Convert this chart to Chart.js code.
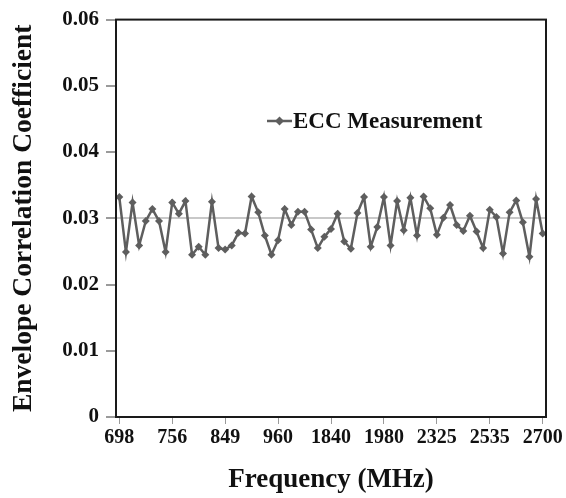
<!DOCTYPE html>
<html>
<head>
<meta charset="utf-8">
<script src="https://cdn.jsdelivr.net/npm/chart.js@4.4.0/dist/chart.umd.min.js"></script>
<style>
    body { margin: 0; background: #fff; }
</style>
</head>
<body>
<canvas id="ecc_chart" width="566" height="498"></canvas>
<script>
// tick labels shown on the frequency axis (one every 8 measurement points)
let freqLabels = ['698', '756', '849', '960', '1840', '1980', '2325', '2535', '2700']
let freqTickIndex = [0, 8, 16, 24, 32, 40, 48, 56, 64]

let eccValues = [
    0.0332, 0.0249, 0.0324, 0.0259, 0.0296, 0.0314, 0.0296, 0.0249, 0.0324, 0.0307,
    0.0326, 0.0245, 0.0257, 0.0245, 0.0325, 0.0255, 0.0253, 0.0259, 0.0278, 0.0277,
    0.0333, 0.0309, 0.0274, 0.0245, 0.0267, 0.0314, 0.0290, 0.0310, 0.0310, 0.0283,
    0.0255, 0.0272, 0.0284, 0.0307, 0.0265, 0.0254, 0.0308, 0.0332, 0.0257, 0.0287,
    0.0332, 0.0259, 0.0326, 0.0282, 0.0331, 0.0274, 0.0333, 0.0315, 0.0275, 0.0301,
    0.0320, 0.0290, 0.0281, 0.0304, 0.0280, 0.0255, 0.0313, 0.0302, 0.0247, 0.0309,
    0.0327, 0.0294, 0.0242, 0.0329, 0.0277
]

let yTicks = [0, 0.01, 0.02, 0.03, 0.04, 0.05, 0.06]

let serif = '"Liberation Serif", "Times New Roman", serif'
let lineColor = '#5e5e5e'

let points = eccValues.map((v, i) => ({x: i, y: v}))

// black frame round the plot + legend inside the plot area
const framePlugin = {
    id: 'frame',
    afterDraw(chart) {
        let ctx = chart.ctx
        let a = chart.chartArea
        ctx.save()
        ctx.strokeStyle = '#1a1a1a'
        ctx.lineWidth = 2
        ctx.strokeRect(a.left, a.top, a.right - a.left, a.bottom - a.top)

        // legend
        let ly = 121
        ctx.strokeStyle = lineColor
        ctx.lineWidth = 2.5
        ctx.beginPath()
        ctx.moveTo(267, ly)
        ctx.lineTo(292, ly)
        ctx.stroke()
        ctx.fillStyle = lineColor
        ctx.beginPath()
        ctx.moveTo(279.5, ly - 4.5)
        ctx.lineTo(284, ly)
        ctx.lineTo(279.5, ly + 4.5)
        ctx.lineTo(275, ly)
        ctx.closePath()
        ctx.fill()
        ctx.fillStyle = '#111'
        ctx.font = 'bold 23px ' + serif
        ctx.textBaseline = 'middle'
        ctx.fillText(chart.data.datasets[0].label, 293, ly + 1)
        ctx.restore()
    }
}

let ctx = document.getElementById('ecc_chart').getContext('2d')

let eccChart = new Chart(ctx, {
    type: 'line',
    data: {
        datasets: [{
            label: 'ECC Measurement',
            data: points,
            borderColor: lineColor,
            backgroundColor: lineColor,
            borderWidth: 2.5,
            pointStyle: 'rectRot',
            pointRadius: 4,
            pointBorderWidth: 0,
            tension: 0
        }]
    },
    options: {
        responsive: false,
        animation: false,
        devicePixelRatio: 1,
        layout: {padding: {top: 18, right: 20, left: 0, bottom: 0}},
        plugins: {
            legend: {display: false},
            tooltip: {enabled: false}
        },
        scales: {
            x: {
                type: 'linear',
                min: -0.5,
                max: eccValues.length - 0.5,
                afterBuildTicks: scale => {
                    scale.ticks = freqTickIndex.map(v => ({value: v}))
                },
                afterFit: scale => { scale.height = 81 },
                ticks: {
                    autoSkip: false,
                    maxRotation: 0,
                    padding: 2,
                    color: '#111',
                    font: {family: serif, size: 20, weight: 'bold'},
                    callback: (value) => {
                        let k = freqTickIndex.indexOf(value)
                        return k >= 0 ? freqLabels[k] : ''
                    }
                },
                grid: {
                    drawOnChartArea: false,
                    tickLength: 7,
                    tickColor: '#9a9a9a'
                },
                border: {display: false},
                title: {
                    display: true,
                    text: 'Frequency (MHz)',
                    color: '#111',
                    font: {family: serif, size: 27, weight: 'bold'},
                    padding: {top: 0, bottom: 2}
                }
            },
            y: {
                min: 0,
                max: 0.06,
                afterBuildTicks: scale => {
                    scale.ticks = yTicks.map(v => ({value: v}))
                },
                afterFit: scale => { scale.width = 116 },
                ticks: {
                    padding: 7,
                    color: '#111',
                    font: {family: serif, size: 21, weight: 'bold'},
                    callback: v => v === 0 ? '0' : v.toFixed(2)
                },
                grid: {
                    // only the 0.03 line is drawn inside the plot
                    color: c => (c.tick && Math.abs(c.tick.value - 0.03) < 1e-9) ? '#c8c8c8' : 'rgba(0,0,0,0)',
                    lineWidth: 2,
                    tickLength: 10,
                    tickColor: '#9a9a9a'
                },
                border: {display: false},
                title: {
                    display: true,
                    text: 'Envelope Correlation Coefficient',
                    color: '#111',
                    font: {family: serif, size: 27.5, weight: 'bold'},
                    padding: {top: 7, bottom: 0}
                }
            }
        }
    },
    plugins: [framePlugin]
});
</script>
</body>
</html>
